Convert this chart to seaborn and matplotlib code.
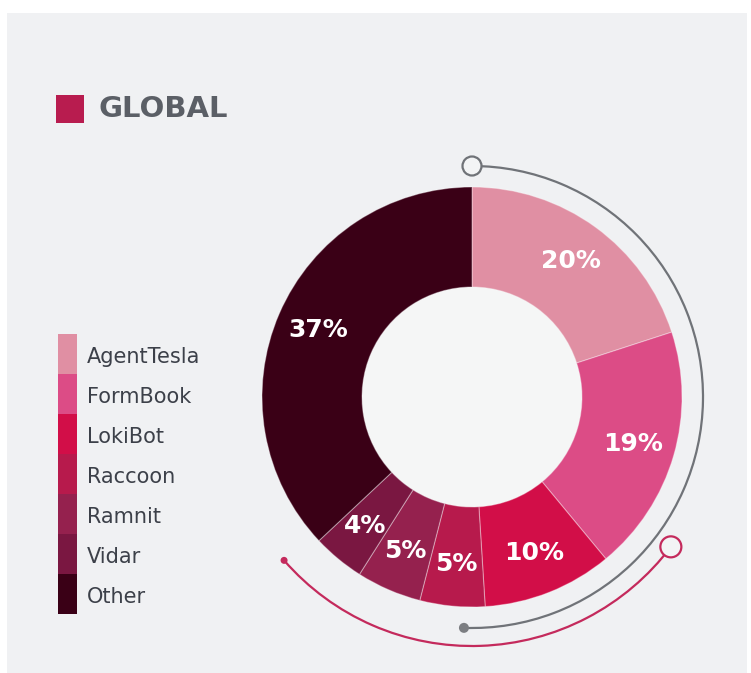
import matplotlib
matplotlib.use('Agg')
import matplotlib.pyplot as plt
import seaborn as sns
import numpy as np
from matplotlib.patches import Rectangle, Arc, Circle

# ---- data ----
labels = ['AgentTesla', 'FormBook', 'LokiBot', 'Raccoon', 'Ramnit', 'Vidar', 'Other']
shares = [20, 19, 10, 5, 5, 4, 37]
colors = ['#e08fa3', '#dc4c86', '#d20e48', '#b71a4c', '#95214e', '#7a1741', '#3a0016']
title = 'GLOBAL'

sns.set_theme(style='white')
plt.rcParams['font.family'] = ['DejaVu Sans']
palette = sns.color_palette(colors)

W, H = 751, 673
fig = plt.figure(figsize=(W / 100, H / 100), dpi=100)
fig.patch.set_facecolor('white')
ax = fig.add_axes([0, 0, 1, 1])


def Y(py):
    return H - py


# panel background
ax.add_patch(Rectangle((7, Y(673)), 740, 660, facecolor='#f0f1f3', edgecolor='none', zorder=0))

cx, cy = 472, Y(397)
R_out, width = 210, 100

wedges, _ = ax.pie(shares, colors=palette, startangle=90, counterclock=False,
                   radius=R_out, center=(cx, cy),
                   wedgeprops=dict(width=width, edgecolor=(1, 1, 1, 0.35), linewidth=0.8))
for w in wedges:
    w.set_zorder(2)
ax.add_patch(Circle((cx, cy), R_out - width, facecolor='#f5f6f6', edgecolor='none', zorder=1))

# percentage labels
cum = 0
for s in shares:
    mid = np.deg2rad(90 - 360 * (cum + s / 2) / 100)
    r = 168
    ax.text(cx + r * np.cos(mid), cy + r * np.sin(mid), f'{s}%', color='white',
            fontsize=18, fontweight='bold',
            ha='center', va='center', zorder=5)
    cum += s

# gray arc
rg = 231
ax.add_patch(Arc((cx, cy), 2 * rg, 2 * rg, theta1=-92, theta2=90, color='#707378', lw=1.6, zorder=3))
a = np.deg2rad(90)
ax.add_patch(Circle((cx + rg * np.cos(a), cy + rg * np.sin(a)), 9.5, facecolor='#f3f4f5',
                    edgecolor='#707378', lw=1.6, zorder=4))
a = np.deg2rad(-92)
ax.add_patch(Circle((cx + rg * np.cos(a), cy + rg * np.sin(a)), 5, facecolor='#7c7e82',
                    edgecolor='none', zorder=4))

# red arc
rr = 249
ax.add_patch(Arc((cx, cy), 2 * rr, 2 * rr, theta1=-139, theta2=-37, color='#c42a5c', lw=1.6, zorder=3))
a = np.deg2rad(-139)
ax.add_patch(Circle((cx + rr * np.cos(a), cy + rr * np.sin(a)), 3.5, facecolor='#c42a5c',
                    edgecolor='none', zorder=4))
a = np.deg2rad(-37)
ax.add_patch(Circle((cx + rr * np.cos(a), cy + rr * np.sin(a)), 10.5, facecolor='#f3f4f5',
                    edgecolor='#c42a5c', lw=1.6, zorder=4))

# legend bar
seg_h = 40
for i, (lab, col) in enumerate(zip(labels, palette)):
    top = 334 + seg_h * i
    ax.add_patch(Rectangle((58, Y(top + seg_h)), 19, seg_h, facecolor=col, edgecolor='none', zorder=2))
    ax.text(87, Y(top + seg_h / 2 + 3), lab, color='#3c4049', fontsize=15,
            ha='left', va='center', zorder=5)

# title
ax.add_patch(Rectangle((56, Y(123)), 28, 28, facecolor='#b81c4f', edgecolor='none', zorder=2))
ax.text(99, Y(109), title, color='#5b5f66', fontsize=21, fontweight='bold',
        ha='left', va='center', zorder=5)

ax.set_xlim(0, W)
ax.set_ylim(0, H)
ax.set_aspect('equal')
ax.axis('off')

fig.savefig('out.png', dpi=100, facecolor='white')
